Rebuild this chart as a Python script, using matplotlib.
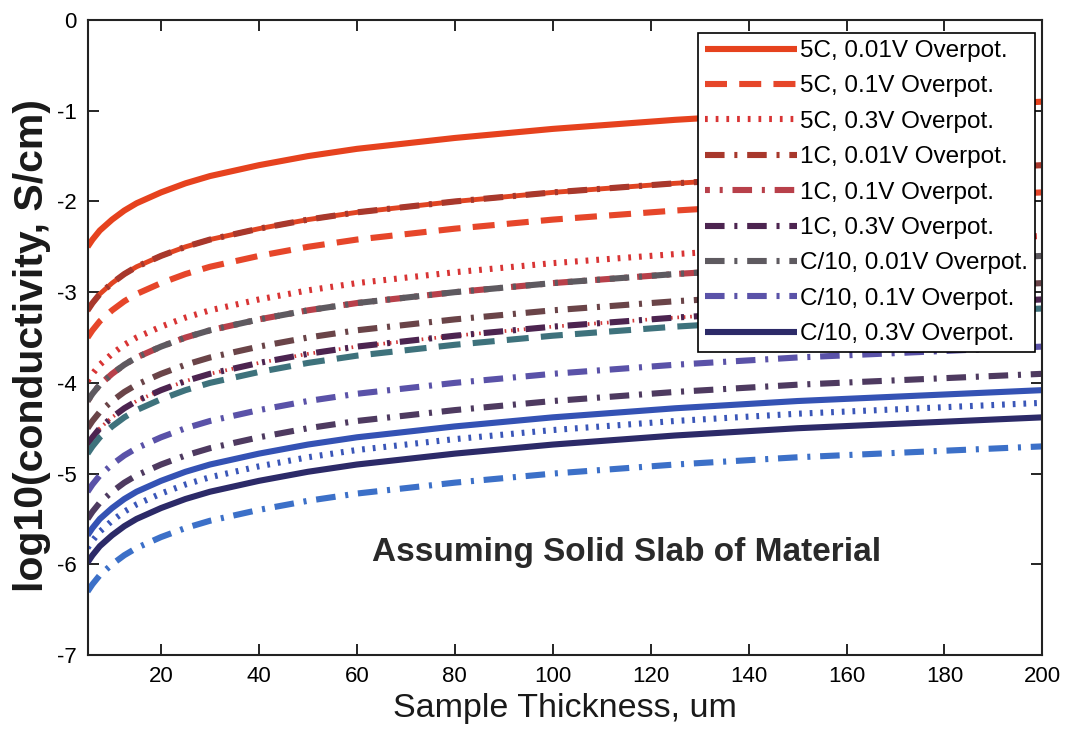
import matplotlib
matplotlib.use("Agg")
import matplotlib.pyplot as plt
from matplotlib import font_manager

thickness = [5, 6, 7.5, 10, 12.5, 15, 20, 25, 30, 40, 50, 60, 80, 100, 125, 150, 175, 200]

# log10(conductivity), top curve to bottom curve
c_5c_001 = [-2.50, -2.42, -2.32, -2.20, -2.10, -2.02, -1.90, -1.80, -1.72, -1.60, -1.50, -1.42, -1.30, -1.20, -1.10, -1.02, -0.96, -0.90]
c_1c_001 = [-3.20, -3.12, -3.02, -2.90, -2.80, -2.72, -2.60, -2.50, -2.42, -2.30, -2.20, -2.12, -2.00, -1.90, -1.80, -1.72, -1.66, -1.60]
c_5c_01 = [-3.50, -3.42, -3.32, -3.20, -3.10, -3.02, -2.90, -2.80, -2.72, -2.60, -2.50, -2.42, -2.30, -2.20, -2.10, -2.02, -1.96, -1.90]
c_5c_03 = [-3.98, -3.90, -3.80, -3.68, -3.58, -3.50, -3.38, -3.28, -3.20, -3.08, -2.98, -2.90, -2.78, -2.68, -2.58, -2.50, -2.44, -2.38]
c_c10_001 = [-4.20, -4.12, -4.02, -3.90, -3.80, -3.72, -3.60, -3.50, -3.42, -3.30, -3.20, -3.12, -3.00, -2.90, -2.80, -2.72, -2.66, -2.60]
c_extra_1 = [-4.50, -4.42, -4.32, -4.20, -4.10, -4.02, -3.90, -3.80, -3.72, -3.60, -3.50, -3.42, -3.30, -3.20, -3.10, -3.02, -2.96, -2.90]
c_1c_03 = [-4.68, -4.60, -4.50, -4.38, -4.28, -4.20, -4.08, -3.98, -3.90, -3.78, -3.68, -3.60, -3.48, -3.38, -3.28, -3.20, -3.14, -3.08]
c_extra_2 = [-4.78, -4.70, -4.60, -4.48, -4.38, -4.30, -4.18, -4.08, -4.00, -3.88, -3.78, -3.70, -3.58, -3.48, -3.38, -3.30, -3.24, -3.18]
c_c10_01 = [-5.20, -5.12, -5.02, -4.90, -4.80, -4.72, -4.60, -4.50, -4.42, -4.30, -4.20, -4.12, -4.00, -3.90, -3.80, -3.72, -3.66, -3.60]
c_extra_3 = [-5.50, -5.42, -5.32, -5.20, -5.10, -5.02, -4.90, -4.80, -4.72, -4.60, -4.50, -4.42, -4.30, -4.20, -4.10, -4.02, -3.96, -3.90]
c_extra_4 = [-5.68, -5.60, -5.50, -5.38, -5.28, -5.20, -5.08, -4.98, -4.90, -4.78, -4.68, -4.60, -4.48, -4.38, -4.28, -4.20, -4.14, -4.08]
c_extra_5 = [-5.82, -5.74, -5.64, -5.52, -5.42, -5.34, -5.22, -5.12, -5.04, -4.92, -4.82, -4.74, -4.62, -4.52, -4.42, -4.34, -4.28, -4.22]
c_c10_03 = [-5.98, -5.90, -5.80, -5.68, -5.58, -5.50, -5.38, -5.28, -5.20, -5.08, -4.98, -4.90, -4.78, -4.68, -4.58, -4.50, -4.44, -4.38]
c_extra_6 = [-6.30, -6.22, -6.12, -6.00, -5.90, -5.82, -5.70, -5.60, -5.52, -5.40, -5.30, -5.22, -5.10, -5.00, -4.90, -4.82, -4.76, -4.70]

labels = ["5C, 0.01V Overpot.", "5C, 0.1V Overpot.", "5C, 0.3V Overpot.",
          "1C, 0.01V Overpot.", "1C, 0.1V Overpot.", "1C, 0.3V Overpot.",
          "C/10, 0.01V Overpot.", "C/10, 0.1V Overpot.", "C/10, 0.3V Overpot."]

xticks = [20, 40, 60, 80, 100, 120, 140, 160, 180, 200]
yticks = [0, -1, -2, -3, -4, -5, -6, -7]

names = {f.name for f in font_manager.fontManager.ttflist}
tick_font = "Liberation Sans Narrow" if "Liberation Sans Narrow" in names else "Liberation Sans"
plt.rcParams["font.family"] = ["Liberation Sans", "DejaVu Sans"]

LW = 4.4
DASH = (0, (3.6, 2.0))
DOT = (0, (0.45, 1.3))
DASHDOT = (0, (3.2, 1.6, 0.5, 1.6))
DASHDOT_B = (2.4, (3.2, 1.6, 0.5, 1.6))


def main():
    fig = plt.figure(figsize=(10.68, 7.29), dpi=100)
    ax = fig.add_axes([0.082, 0.1015, 0.894, 0.871])

    kw = dict(lw=LW, dash_capstyle="butt", solid_capstyle="butt")
    h = {}
    h[0], = ax.plot(thickness, c_5c_001, color="#e6421e", ls="-", **kw)
    ax.plot(thickness, c_1c_001, color="#e04422", ls="-", lw=LW * 0.8)
    h[3], = ax.plot(thickness, c_1c_001, color="#a8382c", ls=DASHDOT, **kw)
    h[1], = ax.plot(thickness, c_5c_01, color="#e6462a", ls=DASH, **kw)
    h[2], = ax.plot(thickness, c_5c_03, color="#d83434", ls=DOT, **kw)
    h[4], = ax.plot(thickness, c_c10_001, color="#b8404a", ls=DASHDOT_B, **kw)
    h[6], = ax.plot(thickness, c_c10_001, color="#5e5a60", ls=DASHDOT, **kw)
    ax.plot(thickness, c_extra_1, color="#6a4448", ls=DASHDOT, **kw)
    ax.plot(thickness, c_1c_03, color="#d03838", ls=DOT, lw=LW * 0.6)
    h[5], = ax.plot(thickness, c_1c_03, color="#4c2450", ls=DASHDOT, **kw)
    ax.plot(thickness, c_extra_2, color="#3e727c", ls=DASH, **kw)
    h[7], = ax.plot(thickness, c_c10_01, color="#5a52a8", ls=DASHDOT, **kw)
    ax.plot(thickness, c_extra_3, color="#4e3a60", ls=DASHDOT, **kw)
    ax.plot(thickness, c_extra_4, color="#3452b4", ls="-", **kw)
    ax.plot(thickness, c_extra_5, color="#3a56b8", ls=DOT, **kw)
    h[8], = ax.plot(thickness, c_c10_03, color="#2c2a68", ls="-", **kw)
    ax.plot(thickness, c_extra_6, color="#3c70c8", ls=DASHDOT, **kw)

    ax.set_xlim(5, 200)
    ax.set_ylim(-7, 0)
    ax.set_xticks(xticks)
    ax.set_yticks(yticks)
    ax.set_xticklabels([str(t) for t in xticks], family=tick_font, fontsize=16)
    ax.set_yticklabels([str(t) for t in yticks], family=tick_font, fontsize=16)
    ax.tick_params(direction="in", length=8, width=1.2, top=True, right=True, pad=8)
    for s in ax.spines.values():
        s.set_linewidth(1.5)
        s.set_color("#222222")

    ax.set_xlabel("Sample Thickness, um", fontsize=24.5, color="#1a1a1a", labelpad=4)
    ax.set_ylabel("log10(conductivity, S/cm)", fontsize=29.5, fontweight="bold",
                  color="#1a1a1a")
    ax.yaxis.set_label_coords(-0.038, 0.487)

    ax.text(115, -5.87, "Assuming Solid Slab of Material", fontsize=24, fontweight="bold",
            color="#2a2a2a", ha="center", va="center")

    leg = ax.legend([h[i] for i in range(9)], labels, loc="upper right",
                    bbox_to_anchor=(0.969, 0.955), bbox_transform=fig.transFigure,
                    fontsize=17.5, handlelength=3.8, handletextpad=0.1,
                    labelspacing=0.55, borderpad=0.3, fancybox=False, framealpha=1,
                    edgecolor="black", borderaxespad=0)
    leg.get_frame().set_linewidth(1.2)

    fig.savefig("out.png", dpi=100)


if __name__ == "__main__":
    main()
